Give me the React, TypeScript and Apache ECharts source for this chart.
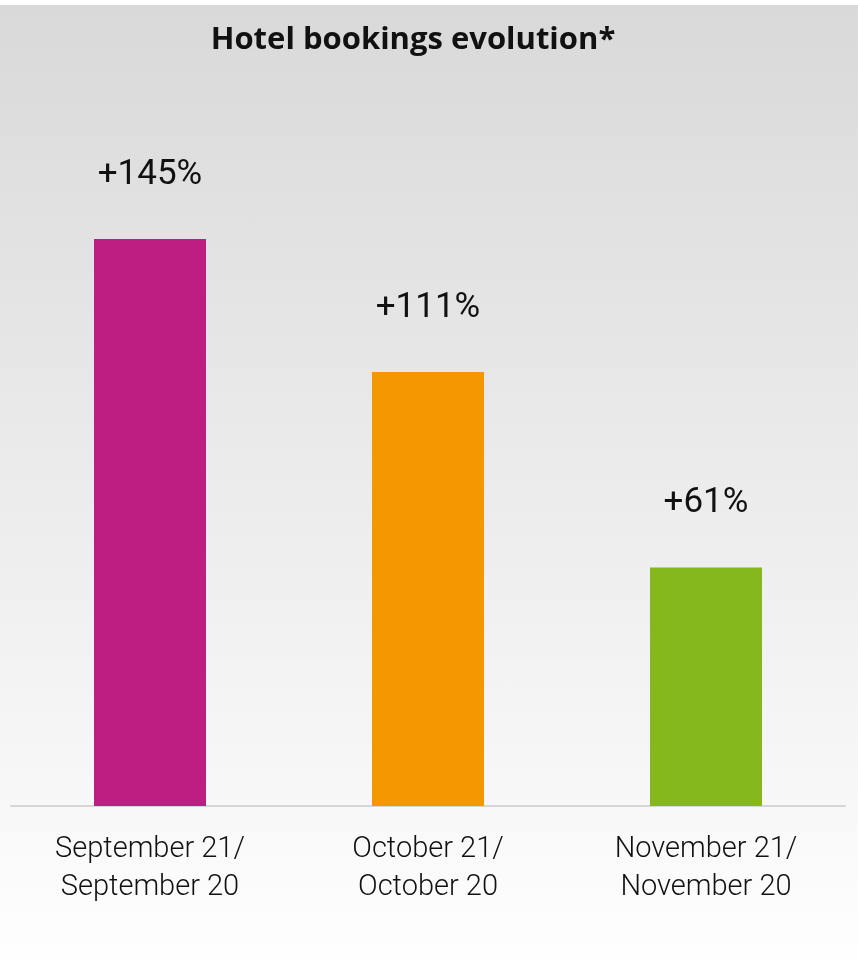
import React, { useEffect, useRef } from "react";
import * as echarts from "echarts";

const categories = ["September 21/\nSeptember 20", "October 21/\nOctober 20", "November 21/\nNovember 20"];
const values = [145, 111, 61];
const barColors = ["#BE1E82", "#F39800", "#84B81D"];
const titleText = "Hotel bookings evolution*";

export default function App() {
  const ref = useRef<HTMLDivElement>(null);
  useEffect(() => {
    const chart = echarts.init(ref.current!, null, { renderer: "svg" });
    const maxV = 160;
    const gridBottom = 959 - 806;
    const plotH = (567 * maxV) / 145;
    chart.setOption({
      animation: false,
      graphic: [
        {
          type: "rect",
          z: -10,
          silent: true,
          shape: { x: 0, y: 5, width: 858, height: 954 },
          style: {
            fill: new echarts.graphic.LinearGradient(0, 0, 0, 1, [
              { offset: 0, color: "#d9d9d9" },
              { offset: 1, color: "#fefefe" },
            ]),
          },
        },
      ],
      title: {
        text: titleText,
        left: 408,
        textAlign: "center",
        top: 16,
        textStyle: { fontFamily: "Open Sans", fontWeight: 700, fontSize: 31, color: "#111" },
      },
      grid: { left: 11, right: 13, bottom: gridBottom, top: 806 - plotH },
      xAxis: {
        type: "category",
        data: categories,
        axisLine: { show: true, lineStyle: { color: "#d6d6d6", width: 2 } },
        axisTick: { show: false },
        axisLabel: {
          margin: 22,
          fontFamily: "Roboto, sans-serif",
          fontWeight: 300,
          fontSize: 29,
          lineHeight: 38,
          color: "#111",
        },
      },
      yAxis: { type: "value", min: 0, max: maxV, show: false, splitLine: { show: false } },
      series: [
        {
          type: "bar",
          barWidth: 112,
          data: values.map((v, i) => ({ value: v, itemStyle: { color: barColors[i] } })),
          label: {
            show: true,
            position: "top",
            distance: 49,
            formatter: (p: any) => "+" + p.value + "%",
            fontFamily: "Roboto, sans-serif",
            fontSize: 35,
            color: "#111",
          },
        },
      ],
    });
    return () => chart.dispose();
  }, []);
  return <div ref={ref} style={{ position: "fixed", left: 0, top: 0, width: 858, height: 959 }} />;
}
